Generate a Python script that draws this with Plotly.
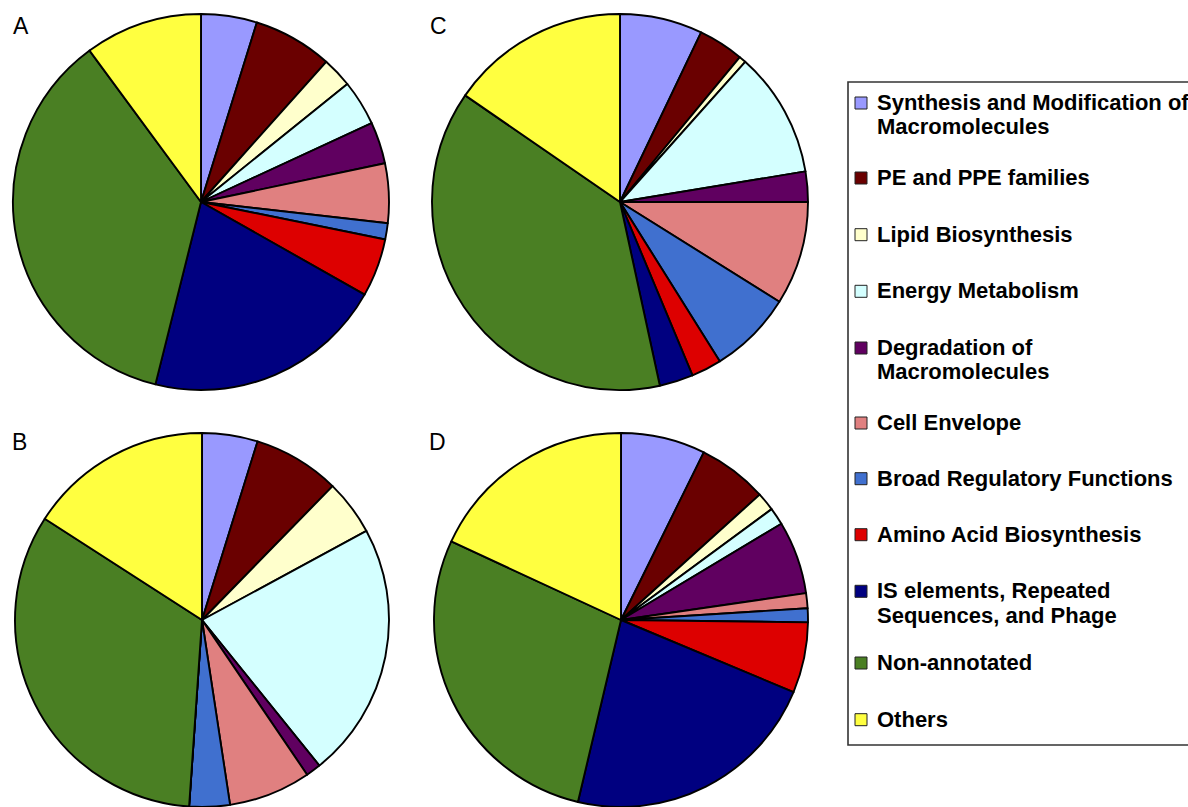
import plotly.graph_objects as go

# Functional categories (legend order = slice order, clockwise from 12 o'clock)
CATEGORIES = [
    "Synthesis and Modification of\nMacromolecules",
    "PE and PPE families",
    "Lipid Biosynthesis",
    "Energy Metabolism",
    "Degradation of\nMacromolecules",
    "Cell Envelope",
    "Broad Regulatory Functions",
    "Amino Acid Biosynthesis",
    "IS elements, Repeated\nSequences, and Phage",
    "Non-annotated",
    "Others",
]

COLORS = [
    "#9999FF", "#6A0000", "#FFFFCC", "#D4FFFF", "#600060", "#E08080",
    "#4070CF", "#DD0000", "#000080", "#4A7F23", "#FFFF40",
]

# Percent of genes per category in each panel
PANEL_A = [4.8, 6.8, 2.6, 3.9, 3.6, 5.1, 1.4, 5.0, 20.7, 36.0, 10.1]
PANEL_B = [4.8, 7.5, 4.8, 22.1, 1.3, 7.1, 3.5, 0.0, 0.0, 33.0, 15.9]
PANEL_C = [7.1, 3.9, 0.6, 10.8, 2.6, 8.9, 7.2, 2.6, 2.9, 38.0, 15.4]
PANEL_D = [7.3, 6.0, 1.6, 1.5, 6.3, 1.3, 1.2, 6.1, 22.4, 28.2, 18.1]

PANEL_NAMES = ["A", "B", "C", "D"]

W, H = 1188, 807


def px(x):
    return x / W


def py(y):
    return 1 - y / H


# pie bounding boxes in pixels: (left, right, top, bottom)
boxes = {
    "A": (13, 389, 14, 390),
    "C": (432, 808, 14, 390),
    "B": (14, 390, 433, 807),
    "D": (433, 809, 433, 807),
}
values = {"A": PANEL_A, "B": PANEL_B, "C": PANEL_C, "D": PANEL_D}

plain_labels = [c.replace("\n", " ") for c in CATEGORIES]

fig = go.Figure()
for name in PANEL_NAMES:
    l, r, t, b = boxes[name]
    fig.add_trace(go.Pie(
        labels=plain_labels,
        values=values[name],
        sort=False,
        direction="clockwise",
        rotation=0,
        textinfo="none",
        marker=dict(colors=COLORS, line=dict(color="black", width=1.9)),
        domain=dict(x=[px(l), px(r)], y=[max(0, py(b)), py(t)]),
        showlegend=False,
        name=name,
    ))

annotations = []
shapes = []

# panel letters
letter_pos = {"A": (11, 26), "C": (428, 26), "B": (10, 442), "D": (427, 442)}
for name in PANEL_NAMES:
    x, y = letter_pos[name]
    annotations.append(dict(
        text=name, x=px(x), y=py(y), xref="paper", yref="paper",
        xanchor="left", yanchor="middle", showarrow=False,
        font=dict(family="Liberation Sans, Arial", size=23, color="black"),
    ))

# legend box
shapes.append(dict(
    type="rect", xref="paper", yref="paper",
    x0=px(848), x1=px(1210), y0=py(745), y1=py(82),
    line=dict(color="#333333", width=1.6), fillcolor="white", layer="below",
))

# legend entries: baseline of the first text line for each entry
baselines = [110, 185, 241.7, 298.3, 355, 430, 485.7, 541.7, 598.3, 670, 726.7]
line_gap = 24.5
font_size = 22
for cat, col, base in zip(CATEGORIES, COLORS, baselines):
    shapes.append(dict(
        type="rect", xref="paper", yref="paper",
        x0=px(855), x1=px(867), y0=py(base - 1), y1=py(base - 13),
        line=dict(color="#222222", width=1), fillcolor=col,
    ))
    for i, line in enumerate(cat.split("\n")):
        b = base + i * line_gap
        annotations.append(dict(
            text="<b>%s</b>" % line, x=px(875), y=py(b - 7.6),
            xref="paper", yref="paper", xanchor="left", yanchor="middle",
            showarrow=False,
            font=dict(family="Liberation Sans, Arial", size=font_size, color="black"),
        ))

fig.update_layout(
    width=W, height=H,
    margin=dict(l=0, r=0, t=0, b=0),
    paper_bgcolor="white", plot_bgcolor="white",
    showlegend=False,
    annotations=annotations,
    shapes=shapes,
)

fig.write_html("out.html")
